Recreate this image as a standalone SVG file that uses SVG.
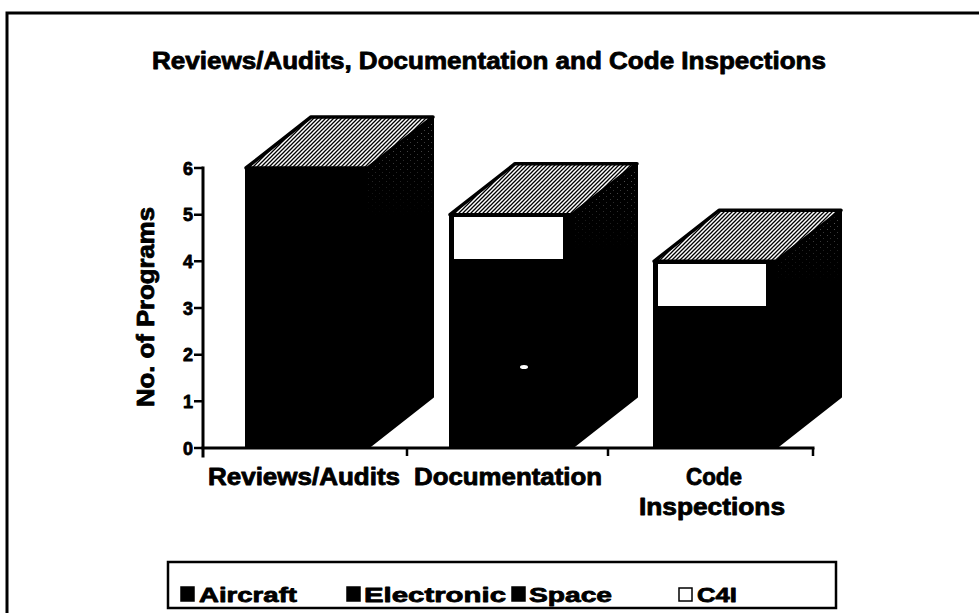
<svg xmlns="http://www.w3.org/2000/svg" width="979" height="613" viewBox="0 0 979 613">
  <style>
    .t { font-family: "Liberation Sans", Arial, Helvetica, sans-serif; font-weight: bold; fill: #000; stroke: #000; stroke-width: 0.8; stroke-linejoin: round; }
    .axis { stroke: #000; stroke-width: 3; fill: none; stroke-linecap: square; }
    .tick { stroke: #000; stroke-width: 2.5; fill: none; }
    .face { fill: #000; stroke: #000; stroke-width: 2; stroke-linejoin: round; }
    .top { fill: url(#hatch); stroke: #000; stroke-width: 3.5; stroke-linejoin: round; }
    .c4i { fill: #fff; }
    .key { stroke: #000; stroke-width: 1.5; }
  </style>
  <defs>
    <!-- diagonal halftone used on the top faces -->
    <pattern id="hatch" width="4" height="4" patternUnits="userSpaceOnUse">
      <rect width="4" height="4" fill="#fff"/>
      <path d="M-1,1 L1,-1 M0,4 L4,0 M3,5 L5,3" stroke="#000" stroke-width="1.3"/>
    </pattern>
    <!-- sparse speckle used on the upper part of the side faces -->
    <pattern id="speck" width="7" height="6" patternUnits="userSpaceOnUse">
      <rect width="7" height="6" fill="#000"/>
      <rect x="1" y="1" width="1" height="1" fill="#aaa"/>
      <rect x="4" y="4" width="1" height="1" fill="#888"/>
    </pattern>
    <linearGradient id="fade" x1="0" y1="0" x2="0" y2="1">
      <stop offset="0" stop-color="#fff" stop-opacity="0.6"/>
      <stop offset="0.3" stop-color="#fff" stop-opacity="0"/>
    </linearGradient>
    <mask id="fadeMask" maskContentUnits="objectBoundingBox">
      <rect width="1" height="1" fill="url(#fade)"/>
    </mask>
  </defs>

  <rect width="979" height="613" fill="#fff"/>

  <!-- page frame -->
  <path d="M7,613 V13 H979" fill="none" stroke="#000" stroke-width="3"/>

  <!-- title -->
  <text class="t" x="489" y="69" font-size="23" text-anchor="middle" textLength="674" lengthAdjust="spacingAndGlyphs">Reviews/Audits, Documentation and Code Inspections</text>

  <!-- bar: Reviews/Audits (6) -->
  <g id="bar-reviews">
    <rect class="face" x="246" y="168" width="122" height="280"/>
    <polygon class="face" points="368,168 433,117 433,397 368,448"/>
    <polygon points="368,168 433,117 433,397 368,448" fill="url(#speck)" mask="url(#fadeMask)"/>
    <polygon class="top" points="246,168 311,117 433,117 368,168"/>
  </g>

  <!-- bar: Documentation (4 + 1 C4I) -->
  <g id="bar-documentation">
    <rect class="face" x="450" y="214.7" width="122" height="233.3"/>
    <polygon class="face" points="572,214.7 637,163.7 637,397 572,448"/>
    <polygon points="572,214.7 637,163.7 637,397 572,448" fill="url(#speck)" mask="url(#fadeMask)"/>
    <polygon class="top" points="450,214.7 515,163.7 637,163.7 572,214.7"/>
    <rect class="c4i" x="454" y="217" width="109" height="42"/>
    <ellipse cx="524" cy="367" rx="4" ry="2" fill="#fff"/>
  </g>

  <!-- bar: Code Inspections (3 + 1 C4I) -->
  <g id="bar-code">
    <rect class="face" x="654" y="261.3" width="122" height="186.7"/>
    <polygon class="face" points="776,261.3 841,210.3 841,397 776,448"/>
    <polygon points="776,261.3 841,210.3 841,397 776,448" fill="url(#speck)" mask="url(#fadeMask)"/>
    <polygon class="top" points="654,261.3 719,210.3 841,210.3 776,261.3"/>
    <rect class="c4i" x="658" y="264" width="108" height="42"/>
  </g>

  <!-- axes -->
  <g id="axes">
    <path class="axis" d="M203,168 V456"/>
    <path class="axis" d="M203,448 H813"/>
    <path class="tick" d="M194,168 H203 M194,214.7 H203 M194,261.3 H203 M194,308 H203 M194,354.7 H203 M194,401.3 H203 M194,448 H203"/>
    <path class="tick" d="M407,448 V456 M608,448 V456 M813,448 V456"/>
    <g class="t" font-size="18" text-anchor="end">
      <text x="193" y="174.5">6</text>
      <text x="193" y="221.2">5</text>
      <text x="193" y="267.8">4</text>
      <text x="193" y="314.5">3</text>
      <text x="193" y="361.2">2</text>
      <text x="193" y="407.8">1</text>
      <text x="193" y="454.5">0</text>
    </g>
    <text class="t" font-size="23" text-anchor="middle" transform="translate(154,307) rotate(-90)" textLength="200" lengthAdjust="spacingAndGlyphs">No. of Programs</text>
    <g class="t" font-size="23" text-anchor="middle">
      <text x="304" y="485" textLength="192" lengthAdjust="spacingAndGlyphs">Reviews/Audits</text>
      <text x="508" y="485" textLength="188" lengthAdjust="spacingAndGlyphs">Documentation</text>
      <text x="714" y="485" textLength="56" lengthAdjust="spacingAndGlyphs">Code</text>
      <text x="712" y="515" textLength="146" lengthAdjust="spacingAndGlyphs">Inspections</text>
    </g>
  </g>

  <!-- legend -->
  <g id="legend">
    <rect x="168" y="562" width="668" height="46" fill="#fff" stroke="#000" stroke-width="2.5"/>
    <rect class="key" x="181" y="587" width="13" height="14" fill="#000"/>
    <rect class="key" x="347" y="587" width="13" height="14" fill="#000"/>
    <rect class="key" x="512" y="587" width="13" height="14" fill="#000"/>
    <rect class="key" x="679" y="588" width="13" height="13" fill="#fff" stroke-width="2"/>
    <g class="t" font-size="21">
      <text x="199" y="601.5" textLength="98" lengthAdjust="spacingAndGlyphs">Aircraft</text>
      <text x="364" y="601.5" textLength="142" lengthAdjust="spacingAndGlyphs">Electronic</text>
      <text x="529" y="601.5" textLength="83" lengthAdjust="spacingAndGlyphs">Space</text>
      <text x="697" y="601.5" textLength="40" lengthAdjust="spacingAndGlyphs">C4I</text>
    </g>
  </g>
</svg>
